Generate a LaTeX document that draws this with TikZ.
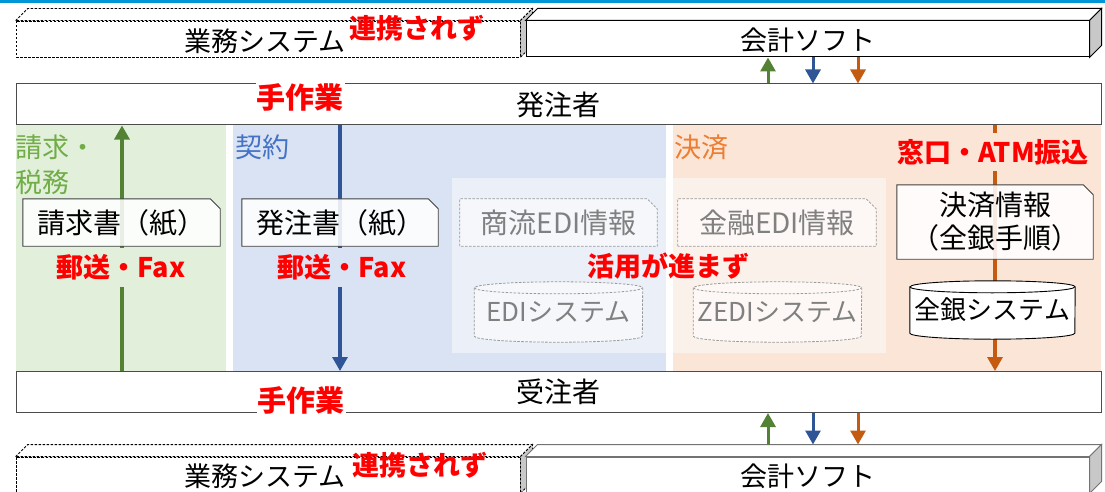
\documentclass[tikz,border=0pt]{standalone}
\usepackage{fontspec}
\setmainfont{Noto Sans CJK JP}
\usetikzlibrary{arrows.meta}
\pgfdeclarelayer{bg}
\pgfdeclarelayer{mid}
\pgfsetlayers{bg,mid,main}
\definecolor{gbg}{HTML}{E2EFDA}
\definecolor{bbg}{HTML}{DAE3F3}
\definecolor{obg}{HTML}{FBE5D6}
\definecolor{bli}{HTML}{EAEFF8}
\definecolor{oli}{HTML}{FBF1EB}
\definecolor{garr}{HTML}{548235}
\definecolor{barr}{HTML}{2F5597}
\definecolor{oarr}{HTML}{C55A11}
\definecolor{glab}{HTML}{70AD47}
\definecolor{blab}{HTML}{4472C4}
\definecolor{olab}{HTML}{ED7D31}
\definecolor{topbar}{HTML}{0096D6}
\definecolor{sidegray}{HTML}{C8C8C8}
\newcommand\docframe[2]{%
  \begin{pgfonlayer}{mid}
  \filldraw[#2] (#1.south west) -- (#1.north west) -- ([xshift=-10pt]#1.north east)
     -- ([yshift=-10pt]#1.north east) -- (#1.south east) -- cycle;
  \end{pgfonlayer}}
\newcommand\cylframe[3]{%
  \begin{pgfonlayer}{mid}
  \filldraw[#2] ([yshift=-6pt]#1.north west) -- ([yshift=6pt]#1.south west)
     arc[start angle=180,end angle=360,x radius=#3,y radius=6pt]
     -- ([yshift=-6pt]#1.north east)
     arc[start angle=0,end angle=180,x radius=#3,y radius=6pt] -- cycle;
  \draw[#2,fill=none] ([yshift=-6pt]#1.north west)
     arc[start angle=180,end angle=360,x radius=#3,y radius=6pt];
  \end{pgfonlayer}}
\tikzset{
  txt/.style={inner sep=0pt, font=\fontsize{28}{33}\selectfont, align=center},
  cyltxt/.style={inner sep=0pt, font=\fontsize{26}{30}\selectfont, align=center},
  bigbox/.style={draw=black!70, line width=1pt, fill=white, minimum width=1085pt,
     minimum height=41pt, inner sep=0pt, font=\fontsize{28}{33}\selectfont},
  redlab/.style={text=red, font=\fontsize{27}{30}\selectfont\bfseries, inner xsep=1pt, inner ysep=0pt},
  collab/.style={anchor=west, inner sep=0pt, align=left, font=\fontsize{27}{35}\selectfont},
  docline/.style={draw=black!75, line width=0.9pt, fill=white, fill opacity=0.88},
  ediline/.style={draw=black!40, line width=0.8pt, dash pattern=on 2.5pt off 1.5pt, fill=white, fill opacity=0.55},
  cylline/.style={draw=black, line width=0.9pt, fill=white},
  mainarrow/.style={line width=3.2pt, -{Triangle[width=15pt,length=14pt]}},
  smallarrow/.style={line width=3pt, -{Triangle[width=15pt,length=14pt]}},
  dashfront/.style={draw=black, line width=0.8pt, dash pattern=on 2.5pt off 1.5pt, fill=white,
     inner sep=0pt},
  dashface/.style={draw=black, line width=0.8pt, dash pattern=on 2.5pt off 1.5pt},
  solidfront/.style={draw=#1, line width=1pt, fill=white, inner sep=0pt},
  solidface/.style={draw=#1, line width=1pt},
  cubetxt/.style={inner sep=0pt, font=\fontsize{27}{33}\selectfont}
}
\begin{document}
\begin{tikzpicture}[x=1pt,y=-1pt]
\useasboundingbox (0,0) rectangle (1105,492);
\fill[topbar] (0,0) rectangle (1105,3);

% background columns
\begin{pgfonlayer}{bg}
\fill[gbg] (16,125) rectangle (226,372);
\fill[bbg] (233,125) rectangle (665.5,372);
\fill[obg] (673,125) rectangle (1101,372);
\fill[bli] (452,178) rectangle (665.5,353);
\fill[oli] (673,178) rectangle (886,353);
\end{pgfonlayer}

% top cuboids
\node[dashfront, minimum width=504pt, minimum height=36pt] (gyomu1) at (268,39) {};
\filldraw[dashface, fill=white] (gyomu1.north west) -- ++(12pt,12pt) -- ([shift={(12pt,12pt)}]gyomu1.north east) -- (gyomu1.north east) -- cycle;
\filldraw[dashface, fill=sidegray] (gyomu1.north east) -- ++(12pt,12pt) -- ([shift={(12pt,12pt)}]gyomu1.south east) -- (gyomu1.south east) -- cycle;
\node[cubetxt] (gyomu1t) at ([xshift=-3pt,yshift=-2pt]gyomu1.center) {業務システム};
\node[solidfront=black, minimum width=563pt, minimum height=36pt] (kaikei1) at (807.5,39) {};
\filldraw[solidface=black, fill=white] (kaikei1.north west) -- ++(12pt,12pt) -- ([shift={(12pt,12pt)}]kaikei1.north east) -- (kaikei1.north east) -- cycle;
\filldraw[solidface=black, fill=sidegray] (kaikei1.north east) -- ++(12pt,12pt) -- ([shift={(12pt,12pt)}]kaikei1.south east) -- (kaikei1.south east) -- cycle;
\node[cubetxt] (kaikei1t) at ([yshift=-1pt]kaikei1.center) {会計ソフト};

% bottom cuboids
\node[dashfront, minimum width=504pt, minimum height=36pt] (gyomu2) at (268,475) {};
\filldraw[dashface, fill=white] (gyomu2.north west) -- ++(12pt,12pt) -- ([shift={(12pt,12pt)}]gyomu2.north east) -- (gyomu2.north east) -- cycle;
\filldraw[dashface, fill=sidegray] (gyomu2.north east) -- ++(12pt,12pt) -- ([shift={(12pt,12pt)}]gyomu2.south east) -- (gyomu2.south east) -- cycle;
\node[cubetxt] (gyomu2t) at ([xshift=-3pt,yshift=-1pt]gyomu2.center) {業務システム};
\node[solidfront=black!55, minimum width=563pt, minimum height=36pt] (kaikei2) at (807.5,475) {};
\filldraw[solidface=black!55, fill=white] (kaikei2.north west) -- ++(12pt,12pt) -- ([shift={(12pt,12pt)}]kaikei2.north east) -- (kaikei2.north east) -- cycle;
\filldraw[solidface=black!55, fill=sidegray] (kaikei2.north east) -- ++(12pt,12pt) -- ([shift={(12pt,12pt)}]kaikei2.south east) -- (kaikei2.south east) -- cycle;
\node[cubetxt] (kaikei2t) at ([yshift=-1pt]kaikei2.center) {会計ソフト};
\coordinate (k2back) at ([yshift=12pt]kaikei2.north);

% main boxes
\node[bigbox] (hacchu) at (558.5,104.5) {発注者};
\node[bigbox] (juchu) at (558.5,392) {受注者};

% column labels
\node[collab, text=glab] (lblG) at (15,164.5) {請求・\\税務};
\node[collab, text=blab] (lblB) at (235,147) {契約};
\node[collab, text=olab] (lblO) at (674,147) {決済};

% documents
\node[txt, minimum width=197pt, minimum height=47pt] (seikyu) at (121.5,222.5) {請求書（紙）};
\docframe{seikyu}{docline}
\node[txt, minimum width=196pt, minimum height=47pt] (hacchusho) at (340,222.5) {発注書（紙）};
\docframe{hacchusho}{docline}
\node[txt, text=black!50, minimum width=197pt, minimum height=47pt] (shoryu) at (558.5,222.5) {商流EDI情報};
\docframe{shoryu}{ediline}
\node[txt, text=black!50, minimum width=198pt, minimum height=47pt] (kinyu) at (777,222.5) {金融EDI情報};
\docframe{kinyu}{ediline}
\node[txt, minimum width=196pt, minimum height=74pt] (kessai) at (995,222) {決済情報\\（全銀手順）};
\docframe{kessai}{docline}

% cylinders
\node[cyltxt, text=black!50, minimum width=168pt, minimum height=60pt] (edisys) at (558.5,312) {\raisebox{-4pt}{EDIシステム}};
\cylframe{edisys}{ediline}{84pt}
\node[cyltxt, text=black!50, minimum width=168pt, minimum height=60pt] (zedisys) at (777.5,312) {\raisebox{-4pt}{ZEDIシステム}};
\cylframe{zedisys}{ediline}{84pt}
\node[cyltxt, minimum width=165pt, minimum height=58pt] (zengin) at (992.5,310) {\raisebox{-4pt}{全銀システム}};
\cylframe{zengin}{cylline}{82.5pt}

% arrow x positions
\coordinate (xg) at (122,0);
\coordinate (xb) at (340,0);
\coordinate (xo) at (995,0);
\coordinate (sg) at (768,0);
\coordinate (sb) at (813,0);
\coordinate (so) at (858,0);

\begin{pgfonlayer}{bg}
\draw[mainarrow, garr] (juchu.north -| xg) -- (hacchu.south -| xg);
\draw[mainarrow, barr] (hacchu.south -| xb) -- (juchu.north -| xb);
\draw[mainarrow, oarr] (hacchu.south -| xo) -- (juchu.north -| xo);
\end{pgfonlayer}

\draw[smallarrow, garr] (hacchu.north -| sg) -- (kaikei1.south -| sg);
\draw[smallarrow, barr] (kaikei1.south -| sb) -- (hacchu.north -| sb);
\draw[smallarrow, oarr] (kaikei1.south -| so) -- (hacchu.north -| so);
\draw[smallarrow, garr] (k2back -| sg) -- (juchu.south -| sg);
\draw[smallarrow, barr] (juchu.south -| sb) -- (k2back -| sb);
\draw[smallarrow, oarr] (juchu.south -| so) -- (k2back -| so);

% red labels
\node[redlab, fill=white, font=\fontsize{29}{30}\selectfont\bfseries, minimum height=32pt] (tesagyo1) at (300,97) {手作業};
\node[redlab, fill=white, font=\fontsize{29}{30}\selectfont\bfseries, minimum height=32pt] (tesagyo2) at (301,400) {手作業};
\node[redlab] (renkei1) at (417,28) {連携されず};
\node[redlab] (renkei2) at (420,465) {連携されず};
\node[redlab, fill=gbg, minimum height=39pt] (yuso1) at (121,267) {郵送・Fax};
\node[redlab, fill=bbg, minimum height=39pt] (yuso2) at (342,267) {郵送・Fax};
\node[redlab] (katsuyo) at (668,266) {活用が進まず};
\node[redlab, fill=obg, minimum height=37pt] (madoguchi) at (993,152) {窓口・ATM振込};
\end{tikzpicture}
\end{document}
